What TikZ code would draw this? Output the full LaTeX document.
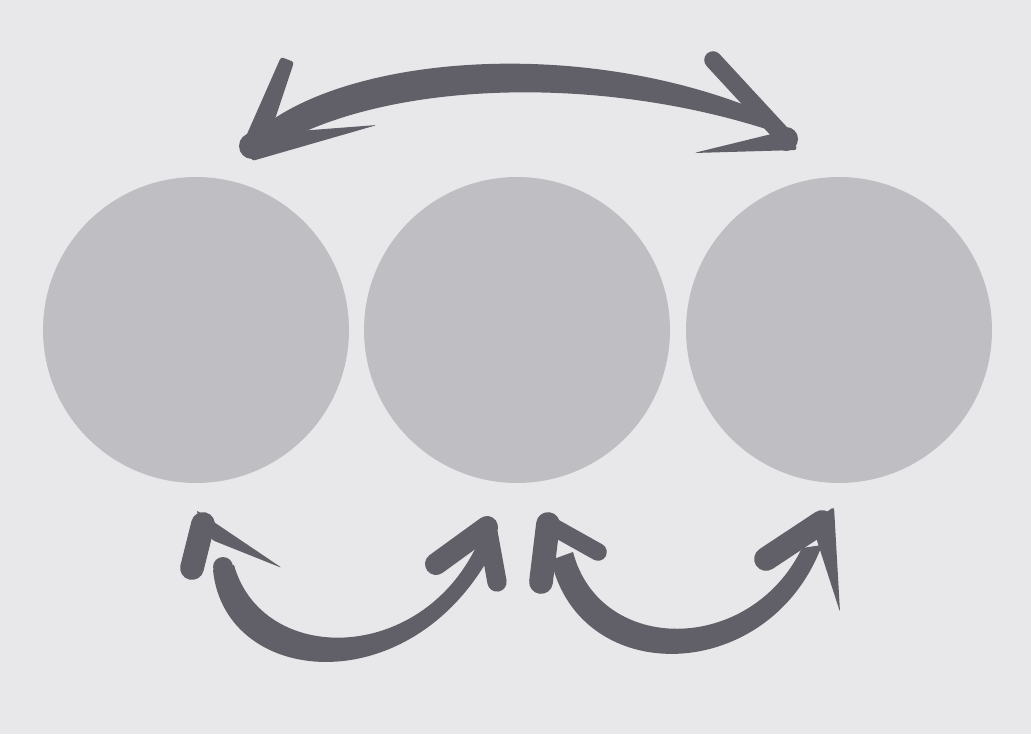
\documentclass[tikz,border=0pt]{standalone}
\usepackage{xcolor}
\usepackage{tikz}
\usetikzlibrary{calc, positioning}

\definecolor{paper}{RGB}{232,232,235}
\definecolor{ballgray}{RGB}{190,190,195}
\definecolor{inkgray}{RGB}{97,95,103}

\begin{document}
\begin{tikzpicture}[x=0.02cm, y=-0.02cm,
    ball/.style={circle, fill=ballgray, minimum size=6.12cm, inner sep=0pt},
    stroke/.style={draw=inkgray, line cap=round, line width=#1},
    stroke/.default=12.5pt,
    blade/.style={fill=inkgray, rounded corners=1.5pt}]

    % =================================================================
    % 1. BACKGROUND AND THE THREE CIRCLES
    % =================================================================
    \fill[paper] (0,0) rectangle (1031,734);
    \useasboundingbox (0,0) rectangle (1031,734);

    \node[ball] (left)   at (196,330) {};
    \node[ball] (middle) at (517,330) {};
    \node[ball] (right)  at (839,330) {};

    % =================================================================
    % 2. TOP ARROW (BETWEEN LEFT AND RIGHT CIRCLE)
    % =================================================================
    \coordinate (TL) at (252,146);
    \coordinate (TR) at (786,139);

    % shaft
    \fill[inkgray] (250,138) .. controls (330,58) and (570,33) .. (760,111)
        -- (766,129) .. controls (580,70) and (360,84) .. (258,158) -- cycle;

    % left head
    \fill[inkgray] (TL) circle (13);
    \fill[blade] (240,150) -- (281,57) -- (294,62) -- (266,146) -- cycle;
    \fill[blade] (246,135) -- (377,125) -- (252,161) -- cycle;

    % right head
    \fill[inkgray] (TR) circle (12);
    \draw[stroke=10pt] (TR) -- (713,60);
    \fill[blade] (792,129) -- (797,150) -- (694,153) -- cycle;

    % =================================================================
    % 3. BOTTOM ARROW (LEFT <-> MIDDLE)
    % =================================================================
    \coordinate (AL) at (203,524);
    \coordinate (AR) at (487,527);

    % shaft
    \fill[inkgray] (213,570) .. controls (225,690) and (420,705) .. (498,540)
        -- (477,545) .. controls (420,665) and (262,665) .. (234,565) -- cycle;
    \fill[inkgray] (223,567) circle (10);

    % left head
    \draw[stroke=13.5pt] (AL) -- (192,568);
    \fill[blade] (196,510) -- (282,568) -- (212,540) -- cycle;

    % right head
    \draw[stroke] (AR) -- (436,564);
    \draw[stroke=11pt] (AR) -- (497,582);

    % =================================================================
    % 4. BOTTOM ARROW (MIDDLE <-> RIGHT)
    % =================================================================
    \coordinate (BL) at (548,524);
    \coordinate (BR) at (822,522);

    % shaft
    \fill[inkgray] (551,560) .. controls (580,690) and (770,685) .. (822,545)
        -- (802,548) .. controls (750,655) and (600,655) .. (573,552) -- cycle;

    % left head
    \draw[stroke=13.5pt] (BL) -- (541,582);
    \draw[stroke=10pt] (BL) -- (598,552);

    % right head
    \draw[stroke=13.5pt] (BR) -- (766,559);
    \fill[blade] (811,522) -- (834,507) -- (840,612) -- cycle;

\end{tikzpicture}
\end{document}
